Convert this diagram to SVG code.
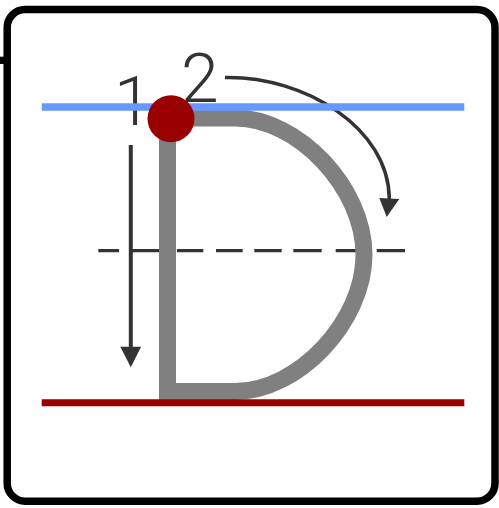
<svg xmlns="http://www.w3.org/2000/svg" width="499" height="508" viewBox="0 0 499 508">
  <style>
    .guide { fill: none; stroke-linecap: butt; }
    .ink { fill: none; stroke: #333333; }
    .head { fill: #333333; stroke: none; }
    .num { font-family: Roboto, "Liberation Sans", Arial, sans-serif; font-weight: 300; font-size: 68px; fill: #333333; }
  </style>
  <rect x="0" y="0" width="499" height="508" fill="#ffffff"/>
  <g id="frame">
    <rect x="0" y="56.7" width="5" height="7.3" fill="#000000"/>
    <rect x="7.2" y="9.5" width="487.8" height="491.7" rx="18" ry="18" fill="#ffffff" stroke="#000000" stroke-width="7.5"/>
  </g>
  <g id="midline">
    <path class="guide" stroke="#333333" stroke-width="3.3" d="M98.3,250.7H119 M132,250.7H160 M177,250.7H203.3 M216,250.7H242.7 M254.3,250.7H281.7 M293.3,250.7H321.7 M335.7,250.7H364 M376.7,250.7H405"/>
  </g>
  <g id="letter-D">
    <path d="M167.5,118 H235 C298.2,118 364,188 364,254.75 C364,321.5 298.2,391.5 235,391.5 H167.5 Z" fill="none" stroke="#808080" stroke-width="17" stroke-linejoin="miter"/>
  </g>
  <g id="connectors">
    <g id="stroke-1-arrow">
      <line class="ink" x1="130.8" y1="145" x2="130.8" y2="348" stroke-width="4"/>
      <polygon class="head" points="120.3,346.7 141.1,346.7 130.8,367.3"/>
    </g>
    <g id="stroke-2-arrow">
      <path class="ink" stroke-width="3.5" d="M225,77.5 C305,76 389,128 389.3,199"/>
      <polygon class="head" points="379.3,198 399.3,199 386.7,217"/>
    </g>
  </g>
  <g id="labels">
    <text class="num" x="114" y="125">1</text>
    <text class="num" x="181" y="101.7">2</text>
  </g>
  <g id="top-line">
    <line class="guide" x1="41.7" y1="107" x2="464.3" y2="107" stroke="#6699ff" stroke-width="7.3"/>
  </g>
  <g id="base-line">
    <line class="guide" x1="41.7" y1="402.8" x2="464.3" y2="402.8" stroke="#990000" stroke-width="7"/>
  </g>
  <g id="start-dot">
    <circle cx="171" cy="118.7" r="23.5" fill="#990000"/>
  </g>
</svg>
